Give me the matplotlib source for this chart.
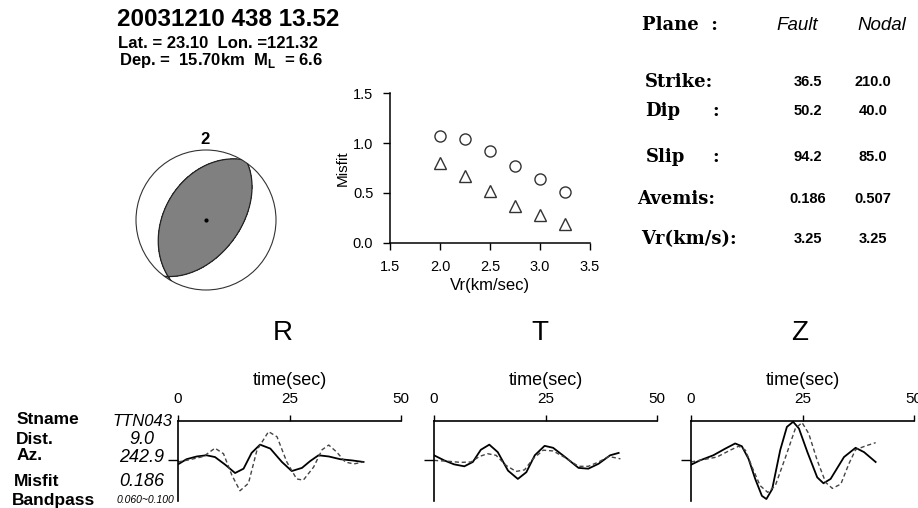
"""
Focal mechanism summary sheet: header, beachball, misfit vs rupture velocity,
fault/nodal plane table and R/T/Z waveform fits for one station.
"""
import numpy as np
import matplotlib; matplotlib.use("Agg")
import matplotlib.pyplot as plt
from matplotlib.patches import Circle

plt.rcParams['font.family'] = ['Liberation Sans', 'DejaVu Sans']
plt.rcParams['mathtext.fontset'] = 'custom'
plt.rcParams['mathtext.rm'] = 'Liberation Sans'
plt.rcParams['mathtext.bf'] = 'Liberation Sans:bold'

# ---- event ----
event_id = "20031210 438 13.52"
lat, lon = 23.10, 121.32
depth_km, ml = 15.70, 6.6
n_stations = 2

# ---- fault plane / auxiliary nodal plane ----
planes = ["Fault", "Nodal"]
strike = [36.5, 210.0]
dip = [50.2, 40.0]
slip = [94.2, 85.0]
avemis = [0.186, 0.507]
vr_best = [3.25, 3.25]

# ---- misfit vs rupture velocity ----
vr = [2.0, 2.25, 2.5, 2.75, 3.0, 3.25]
misfit_nodal = [1.07, 1.04, 0.92, 0.77, 0.64, 0.51]
misfit_fault = [0.80, 0.67, 0.52, 0.37, 0.28, 0.19]

# ---- station ----
station = "TTN043"
dist, azim, st_misfit = 9.0, 242.9, 0.186
bandpass = "0.060~0.100"
components = ["R", "T", "Z"]

# waveforms (time in sec, normalised amplitude); solid = obs, dashed = syn
r_t_obs = [0, 1.9, 4.2, 6.4, 8.3, 10.6, 12.8, 14.7, 16.5, 18.4, 20.7, 23.3, 25.5, 27.8, 29.6, 31.5, 33.8, 36.4, 39.0, 41.6]
r_obs = [-0.10, 0.03, 0.10, 0.13, 0.085, -0.11, -0.32, -0.21, 0.19, 0.40, 0.30, -0.04, -0.27, -0.19, -0.02, 0.13, 0.10, 0.03, 0.0, -0.04]
r_t_syn = [0, 2.7, 5.7, 8.3, 10.2, 12.1, 13.9, 15.8, 17.7, 20.3, 22.2, 24.4, 26.6, 28.1, 30.4, 32.3, 33.8, 35.6, 37.5, 39.4, 41.6]
r_syn = [-0.04, 0.02, 0.10, 0.31, 0.17, -0.38, -0.77, -0.58, 0.26, 0.73, 0.60, -0.04, -0.47, -0.50, -0.17, 0.27, 0.39, 0.21, -0.04, -0.09, -0.04]

t_t_obs = [0, 2.3, 4.5, 6.8, 8.7, 10.5, 12.4, 14.3, 16.6, 18.8, 20.7, 22.6, 24.8, 26.7, 29.4, 32.4, 34.6, 36.9, 39.5, 41.4]
t_obs = [0.13, 0.0, -0.10, -0.15, -0.04, 0.27, 0.40, 0.21, -0.26, -0.47, -0.30, 0.13, 0.37, 0.32, 0.085, -0.19, -0.21, -0.085, 0.13, 0.19]
t_t_syn = [0, 3.0, 6.0, 8.3, 10.2, 12.0, 13.9, 16.2, 18.4, 20.3, 22.2, 24.5, 26.7, 29.4, 32.4, 34.6, 36.9, 39.2, 41.8]
t_syn = [0.0, -0.02, -0.05, -0.04, 0.10, 0.17, 0.13, -0.13, -0.28, -0.24, 0.04, 0.26, 0.24, 0.07, -0.15, -0.15, -0.04, 0.10, 0.04]

z_t_obs = [0, 2.0, 5.0, 7.7, 9.9, 11.4, 12.9, 14.4, 15.9, 16.9, 18.2, 20.0, 21.5, 22.9, 24.2, 26.1, 28.3, 29.7, 31.3, 34.3, 36.9, 38.8, 41.4]
z_obs = [-0.11, 0.0, 0.13, 0.30, 0.43, 0.36, 0.04, -0.47, -0.90, -0.98, -0.73, 0.26, 0.85, 0.98, 0.81, 0.21, -0.43, -0.58, -0.47, 0.085, 0.32, 0.21, -0.04]
z_t_syn = [0, 2.8, 5.8, 8.8, 10.7, 12.2, 13.7, 15.5, 17.2, 18.9, 21.2, 23.4, 24.9, 26.4, 28.3, 30.2, 31.7, 33.6, 35.4, 36.9, 39.2, 41.4]
z_syn = [-0.04, 0.02, 0.085, 0.26, 0.36, 0.26, -0.17, -0.64, -0.81, -0.64, 0.085, 0.81, 0.96, 0.68, 0.0, -0.56, -0.71, -0.60, -0.085, 0.27, 0.37, 0.45]

waves = {"R": (r_t_obs, r_obs, r_t_syn, r_syn),
         "T": (t_t_obs, t_obs, t_t_syn, t_syn),
         "Z": (z_t_obs, z_obs, z_t_syn, z_syn)}

W, H = 918, 508
fig = plt.figure(figsize=(W/100, H/100), dpi=100)
def box(x0, y0, x1, y1):  # pixel box (top-left origin) -> figure fraction
    return [x0/W, 1-y1/H, (x1-x0)/W, (y1-y0)/H]

# overlay for free text in pixel coordinates
ov = fig.add_axes([0, 0, 1, 1]); ov.set_xlim(0, W); ov.set_ylim(H, 0); ov.axis("off")

ov.text(228, 20, event_id, ha="center", va="center", fontsize=17.5, fontweight="bold")
ov.text(218, 43, f"Lat. = {lat:.2f}  Lon. ={lon:.2f}", ha="center", va="center", fontsize=12, fontweight="bold")
ov.text(221, 61, f"Dep. =  {depth_km:.2f}km  M$_\\mathbf{{L}}$  = {ml:.1f}", ha="center", va="center",
        fontsize=12, fontweight="bold")

# ---- table ----
serif = dict(family=["DejaVu Serif"], fontweight="bold", fontsize=13, va="center")
ov.text(642, 25, "Plane  :", **serif)
for name, xc in zip(planes, [797, 882]):
    ov.text(xc, 25, name, ha="center", va="center", fontsize=13.5, style="italic")
rows = [("Strike:", None, 645, 82, strike, "{:.1f}"),
        ("Dip", ":", 645, 111, dip, "{:.1f}"),
        ("Slip", ":", 646, 157, slip, "{:.1f}"),
        ("Avemis:", None, 637, 199, avemis, "{:.3f}"),
        ("Vr(km/s):", None, 641, 239, vr_best, "{:.2f}")]
for lab, colon, x, y, vals, fmt in rows:
    ov.text(x, y, lab, **serif)
    if colon:
        ov.text(712, y, colon, **serif)
    for v, xc in zip(vals, [808, 873]):
        ov.text(xc, y, fmt.format(v), ha="center", va="center", fontsize=10.5, fontweight="bold")

# ---- beachball (equal-area, lower hemisphere) ----
def p_amp(stk, dp, rk, x, y):
    s, d, l = np.radians([stk, dp, rk])
    m11 = -(np.sin(d)*np.cos(l)*np.sin(2*s) + np.sin(2*d)*np.sin(l)*np.sin(s)**2)
    m22 = np.sin(d)*np.cos(l)*np.sin(2*s) - np.sin(2*d)*np.sin(l)*np.cos(s)**2
    m33 = np.sin(2*d)*np.sin(l)
    m12 = np.sin(d)*np.cos(l)*np.cos(2*s) + 0.5*np.sin(2*d)*np.sin(l)*np.sin(2*s)
    m13 = -(np.cos(d)*np.cos(l)*np.cos(s) + np.cos(2*d)*np.sin(l)*np.sin(s))
    m23 = -(np.cos(d)*np.cos(l)*np.sin(s) - np.cos(2*d)*np.sin(l)*np.cos(s))
    r = np.minimum(np.hypot(x, y), np.sqrt(2))
    th = 2*np.arcsin(r/np.sqrt(2)); az = np.arctan2(x, y)
    n1, n2, n3 = np.sin(th)*np.cos(az), np.sin(th)*np.sin(az), np.cos(th)
    return (m11*n1*n1 + m22*n2*n2 + m33*n3*n3
            + 2*(m12*n1*n2 + m13*n1*n3 + m23*n2*n3))

axb = fig.add_axes(box(206-77, 220-77, 206+77, 220+77))
axb.set_xlim(-1.1, 1.1); axb.set_ylim(-1.1, 1.1); axb.axis("off")
g = np.linspace(-1.05, 1.05, 500); X, Y = np.meshgrid(g, g)
A = p_amp(strike[0], dip[0], slip[0], X, Y)
clip = Circle((0, 0), 1, transform=axb.transData)
cf = axb.contourf(X, Y, A, levels=[0, A.max()+1], colors=["#808080"])
cl = axb.contour(X, Y, A, levels=[0], colors="#222", linewidths=0.9)
cf.set_clip_path(clip); cl.set_clip_path(clip)
axb.add_patch(Circle((0, 0), 1, fill=False, ec="#333", lw=0.8))
axb.plot(0, 0, "k.", ms=4)
ov.text(205, 140, str(n_stations), ha="center", va="center", fontsize=12, fontweight="bold")

# ---- misfit vs Vr ----
axm = fig.add_axes(box(390, 93, 590, 243))
axm.plot(vr, misfit_nodal, "o", mfc="none", mec="#333", ms=8, mew=1, clip_on=False)
axm.plot(vr, misfit_fault, "^", mfc="none", mec="#333", ms=8.5, mew=1, clip_on=False)
axm.set_xlim(1.5, 3.5); axm.set_ylim(0, 1.5)
axm.set_xticks([1.5, 2.0, 2.5, 3.0, 3.5]); axm.set_yticks([0, 0.5, 1.0, 1.5])
axm.xaxis.set_major_formatter("{x:.1f}"); axm.yaxis.set_major_formatter("{x:.1f}")
axm.spines[["top", "right"]].set_visible(False)
for sp in axm.spines.values(): sp.set_linewidth(1.1)
axm.tick_params(direction="out", length=5, width=1, labelsize=10.5, pad=7)
axm.set_xlabel("Vr(km/sec)", fontsize=12, labelpad=3)
axm.set_ylabel("Misfit", fontsize=11, labelpad=2)

# ---- station labels ----
for lab, y, x in zip(["Stname", "Dist.", "Az.", "Misfit", "Bandpass"],
                     [420, 439, 456, 481, 500], [17, 16, 17, 14, 12]):
    ov.text(x, y, lab, va="center", fontsize=12.5, fontweight="bold")
for val, y, fs in zip([station, f"{dist:.1f}", f"{azim:.1f}", f"{st_misfit:.3f}"],
                      [421, 440, 457, 481], [12, 13, 13, 13]):
    ov.text(142, y, val, ha="center", va="center", fontsize=fs, style="italic")
ov.text(117, 500, bandpass, va="center", fontsize=7.5, style="italic")

# ---- waveform panels ----
for comp, x0, xt in zip(components, [178, 434, 691], [283, 540, 800]):
    ov.text(xt, 333, comp, ha="center", va="center", fontsize=20)
    t_o, a_o, t_s, a_s = waves[comp]
    ax = fig.add_axes(box(x0, 421, x0+223, 501))
    ax.plot(t_o, a_o, color="black", lw=1.3)
    ax.plot(t_s, a_s, color="#444", lw=1.0, ls=(0, (3, 2)))
    ax.set_xlim(0, 50); ax.set_ylim(-1.03, 1)
    ax.patch.set_visible(False)
    ax.spines[["right", "bottom"]].set_visible(False)
    for sp in ax.spines.values(): sp.set_linewidth(1.2)
    ax.xaxis.tick_top(); ax.xaxis.set_label_position("top")
    ax.set_xticks([0, 25, 50]); ax.set_yticks([0]); ax.set_yticklabels([])
    ax.tick_params(axis="x", direction="out", length=4, width=1, labelsize=11, pad=7)
    ax.tick_params(axis="y", direction="out", length=7, width=1)
    ax.set_xlabel("time(sec)", fontsize=13, labelpad=5)

fig.savefig("out.png", dpi=100)
